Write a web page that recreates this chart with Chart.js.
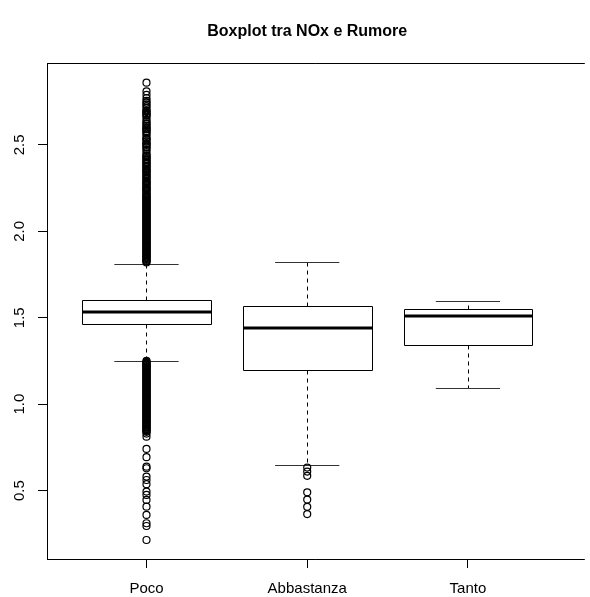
<!DOCTYPE html>
<html>
<head>
<meta charset="utf-8">
<script src="https://cdn.jsdelivr.net/npm/chart.js@4.4.1/dist/chart.umd.min.js"></script>
<style>
  body { margin: 0; background: #fff; }
</style>
</head>
<body>
<canvas id="boxChart" width="590" height="597"></canvas>
<script>
const categories = ['Poco', 'Abbastanza', 'Tanto'];
const lowerWhisker = [1.252, 0.650, 1.095];
const q1 = [1.462, 1.198, 1.341];
const median = [1.532, 1.441, 1.510];
const q3 = [1.603, 1.570, 1.552];
const upperWhisker = [1.813, 1.824, 1.597];
const yTicks = [0.5, 1.0, 1.5, 2.0, 2.5];

// outliers (dense columns estimated)
const outliersPoco = [
  2.86, 2.81, 2.79, 2.77, 2.755, 2.745, 2.735, 2.725, 2.715, 2.70, 2.69, 2.68, 2.67, 2.66,
  2.645, 2.635, 2.62, 2.61, 2.60, 2.59, 2.58, 2.565, 2.555, 2.54, 2.53, 2.52, 2.51, 2.50,
  2.49, 2.475, 2.465, 2.45, 2.44, 2.43, 2.42, 2.41, 2.40, 2.39, 2.38, 2.37, 2.36, 2.35,
  2.34, 2.33, 2.32, 2.31, 2.30, 2.29, 2.28, 2.27, 2.26, 2.25, 2.24, 2.23, 2.22, 2.21,
  2.695, 2.675, 2.625, 2.595, 2.575, 2.535, 2.505, 2.485, 2.435, 2.415, 2.395, 2.375,
  2.355, 2.345, 2.325, 2.305, 2.285, 2.275, 2.255, 2.245, 2.235, 2.215, 2.205,
  2.20, 2.19, 2.18, 2.17, 2.16, 2.15, 2.14, 2.13, 2.12, 2.11, 2.10, 2.09, 2.08, 2.07,
  2.06, 2.05, 2.04, 2.03, 2.02, 2.01, 2.00, 1.99, 1.98, 1.97, 1.96, 1.95, 1.94, 1.93,
  1.92, 1.91, 1.90, 1.89, 1.88, 1.87, 1.86, 1.85, 1.845, 1.84, 1.835, 1.83, 1.825, 1.82,
  2.195, 2.185, 2.175, 2.165, 2.155, 2.145, 2.135, 2.125, 2.115, 2.105, 2.095, 2.085,
  2.075, 2.065, 2.055, 2.045, 2.035, 2.025, 2.015, 2.005, 1.995, 1.985, 1.975, 1.965,
  1.955, 1.945, 1.935, 1.925, 1.915, 1.905, 1.895, 1.885, 1.875, 1.865, 1.855,
  1.25, 1.245, 1.24, 1.235, 1.23, 1.22, 1.21, 1.20, 1.19, 1.18, 1.17, 1.16, 1.15, 1.14,
  1.13, 1.12, 1.11, 1.10, 1.09, 1.08, 1.07, 1.06, 1.05, 1.04, 1.03, 1.02, 1.01, 1.00,
  0.99, 0.98, 0.97, 0.96, 0.95, 0.94, 0.93, 0.92, 0.91, 0.90, 0.89, 0.88, 0.87, 0.86,
  0.85, 0.845, 0.84, 0.83,
  1.225, 1.215, 1.205, 1.195, 1.185, 1.175, 1.165, 1.155, 1.145, 1.135, 1.125, 1.115,
  1.105, 1.095, 1.085, 1.075, 1.065, 1.055, 1.045, 1.035, 1.025, 1.015, 1.005, 0.995,
  0.985, 0.975, 0.965, 0.955, 0.945, 0.935, 0.925, 0.915, 0.905, 0.895, 0.885, 0.875,
  0.865, 0.855,
  0.812, 0.741, 0.693, 0.638, 0.629, 0.581, 0.561, 0.537, 0.494, 0.475, 0.446, 0.407,
  0.359, 0.311, 0.295, 0.214
];
const outliersAbbastanza = [0.633, 0.61, 0.585, 0.49, 0.448, 0.406, 0.364];
const outliersTanto = [];

const allOutliers = [outliersPoco, outliersAbbastanza, outliersTanto];
const outlierPoints = [];
allOutliers.forEach((list, i) => {
  list.forEach(v => outlierPoints.push({ x: i + 1, y: v }));
});

const FONT = 'Liberation Sans, Arial, Helvetica, sans-serif';

const boxPlugin = {
  id: 'rBoxplot',
  beforeDatasetsDraw(chart) {
    const { ctx, scales: { x, y } } = chart;
    ctx.save();
    ctx.strokeStyle = '#000';
    categories.forEach((c, i) => {
      const cx = Math.round(x.getPixelForValue(i + 1)) + 0.5;
      const left = Math.round(x.getPixelForValue(i + 1 - 0.4)) + 0.5;
      const right = Math.round(x.getPixelForValue(i + 1 + 0.4)) + 0.5;
      const capL = x.getPixelForValue(i + 1 - 0.2);
      const capR = x.getPixelForValue(i + 1 + 0.2);
      const yLW = Math.round(y.getPixelForValue(lowerWhisker[i])) + 0.5;
      const yQ1 = Math.round(y.getPixelForValue(q1[i])) + 0.5;
      const yMed = Math.round(y.getPixelForValue(median[i]));
      const yQ3 = Math.round(y.getPixelForValue(q3[i])) + 0.5;
      const yUW = Math.round(y.getPixelForValue(upperWhisker[i])) + 0.5;

      // whiskers (dashed)
      ctx.lineWidth = 1;
      ctx.setLineDash([4, 4]);
      ctx.beginPath();
      ctx.moveTo(cx, yQ3); ctx.lineTo(cx, yUW);
      ctx.moveTo(cx, yQ1); ctx.lineTo(cx, yLW);
      ctx.stroke();
      ctx.setLineDash([]);

      // caps
      ctx.strokeStyle = '#333';
      ctx.beginPath();
      ctx.moveTo(capL, yUW); ctx.lineTo(capR, yUW);
      ctx.moveTo(capL, yLW); ctx.lineTo(capR, yLW);
      ctx.stroke();
      ctx.strokeStyle = '#000';

      // box
      ctx.beginPath();
      ctx.rect(left, yQ3, right - left, yQ1 - yQ3);
      ctx.stroke();

      // median
      ctx.lineWidth = 3;
      ctx.beginPath();
      ctx.moveTo(left, yMed); ctx.lineTo(right, yMed);
      ctx.stroke();
    });
    ctx.restore();
  },
  afterDraw(chart) {
    const { ctx, chartArea: a, scales: { x, y } } = chart;
    ctx.save();
    // frame: left, top, bottom
    ctx.strokeStyle = '#000';
    ctx.lineWidth = 1;
    ctx.beginPath();
    ctx.moveTo(a.left + 0.5, a.top + 0.5); ctx.lineTo(a.left + 0.5, a.bottom + 0.5);
    ctx.moveTo(a.left, a.top + 0.5); ctx.lineTo(a.right, a.top + 0.5);
    ctx.moveTo(a.left, a.bottom + 0.5); ctx.lineTo(a.right, a.bottom + 0.5);
    ctx.stroke();

    // rotated y tick labels
    ctx.fillStyle = '#000';
    ctx.font = '15px ' + FONT;
    ctx.textAlign = 'center';
    ctx.textBaseline = 'middle';
    yTicks.forEach(v => {
      ctx.save();
      ctx.translate(20, y.getPixelForValue(v));
      ctx.rotate(-Math.PI / 2);
      ctx.fillText(v.toFixed(1), 0, 0);
      ctx.restore();
    });

    // title centred over the plot region
    ctx.font = 'bold 16px ' + FONT;
    ctx.fillText('Boxplot tra NOx e Rumore', x.getPixelForValue(2), 32);
    ctx.restore();
  }
};

new Chart(document.getElementById('boxChart').getContext('2d'), {
  type: 'scatter',
  data: {
    datasets: [{
      data: outlierPoints,
      pointStyle: 'circle',
      pointRadius: 3.5,
      pointBorderWidth: 1.2,
      pointBorderColor: '#000',
      pointBackgroundColor: 'rgba(0,0,0,0)',
      showLine: false
    }]
  },
  options: {
    responsive: false,
    animation: false,
    events: [],
    layout: { padding: { top: 63, right: 0, bottom: 0, left: 0 } },
    plugins: {
      legend: { display: false },
      tooltip: { enabled: false },
      title: { display: false }
    },
    scales: {
      x: {
        type: 'linear',
        min: 0.381,
        max: 3.727,
        border: { display: false },
        grid: { drawOnChartArea: false, drawTicks: true, tickLength: 9, tickColor: '#000', tickWidth: 1 },
        afterBuildTicks: s => { s.ticks = categories.map((c, i) => ({ value: i + 1 })); },
        afterFit: s => { s.height = 38; },
        ticks: {
          autoSkip: false,
          maxRotation: 0,
          padding: 12,
          color: '#000',
          font: { family: FONT, size: 15 },
          callback: v => categories[v - 1]
        }
      },
      y: {
        type: 'linear',
        min: 0.104,
        max: 2.974,
        border: { display: false },
        grid: { drawOnChartArea: false, drawTicks: true, tickLength: 9, tickColor: '#000', tickWidth: 1 },
        afterBuildTicks: s => { s.ticks = yTicks.map(v => ({ value: v })); },
        afterFit: s => { s.width = 47; },
        ticks: { display: false }
      }
    }
  },
  plugins: [boxPlugin]
});
</script>
</body>
</html>
